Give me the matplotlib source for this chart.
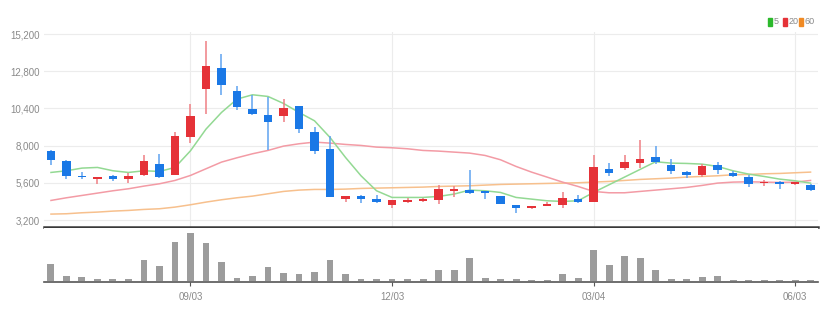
"""Weekly candlestick chart with 5/20/60 moving averages and volume."""

import matplotlib.pyplot as plt
import numpy as np
from matplotlib.patches import Rectangle

# weekly OHLC (red = up, blue = down)
opens = [7629, 7027, 6060, 5866, 6017, 5845, 6124, 6834, 6124, 8532,
         11650, 13004, 11542, 10360, 9994, 9930, 10532, 8876, 7780, 4555,
         4727, 4555, 4189, 4383, 4426, 4512, 5049, 5157, 5049, 4770,
         4189, 3953, 4125, 4146, 4576, 4361, 6511, 6554, 6877, 7242,
         6726, 6296, 6081, 6769, 6232, 5952, 5565, 5651, 5522, 5479]
highs = [7737, 7050, 6275, 5952, 6080, 6232, 7414, 7479, 8876, 10704,
         14724, 13907, 11843, 11284, 11134, 11026, 10575, 9177, 8640, 4727,
         4834, 4834, 4512, 4598, 4598, 5479, 5415, 6404, 5092, 4770,
         4189, 4103, 4340, 5028, 4834, 7393, 6877, 7393, 8382, 7952,
         7135, 6339, 6812, 6962, 6382, 6124, 5758, 5694, 5630, 5522]
lows = [6726, 5845, 5845, 5522, 5694, 5587, 6060, 5888, 6081, 8167,
        10037, 11241, 10295, 9951, 7737, 9500, 8812, 7479, 4684, 4340,
        4297, 4297, 3953, 4297, 4383, 4254, 4684, 4899, 4555, 4254,
        3652, 3931, 4125, 3974, 4297, 4361, 6017, 6447, 6554, 6834,
        6189, 5930, 5952, 6189, 5974, 5329, 5415, 5221, 5458, 5049]
closes = [7092, 6060, 5952, 5952, 5845, 6060, 7006, 5974, 8597, 9930,
          13155, 11886, 10467, 10037, 9500, 10424, 9091, 7629, 4684, 4727,
          4576, 4340, 4490, 4490, 4555, 5221, 5221, 4942, 4942, 4254,
          3974, 4082, 4254, 4598, 4361, 6597, 6232, 6941, 7113, 6920,
          6339, 6081, 6662, 6404, 6017, 5544, 5608, 5544, 5630, 5157]

# moving averages
ma5 = [6269, 6377, 6549, 6592, 6377, 6269, 6377, 6334, 6592, 7667,
       9065, 10140, 11000, 11280, 11172, 10721, 10140, 9602, 8527, 7237,
       6054, 5087, 4657, 4657, 4657, 4721, 4872, 5130, 5087, 4979,
       4657, 4549, 4441, 4399, 4441, 4979, 5474, 5969, 6463, 6958,
       6872, 6850, 6807, 6657, 6377, 6162, 6011, 5840, 5732, 5581]
ma20 = [4463, 4635, 4785, 4936, 5087, 5216, 5388, 5538, 5753, 6076,
        6506, 6936, 7216, 7474, 7689, 7968, 8119, 8226, 8162, 8076,
        8011, 7904, 7861, 7796, 7689, 7646, 7581, 7517, 7366, 7087,
        6657, 6291, 5969, 5646, 5366, 5044, 4957, 4957, 5044, 5130,
        5216, 5302, 5431, 5581, 5646, 5667, 5646, 5624, 5646, 5753]
ma60 = [3582, 3604, 3668, 3711, 3775, 3818, 3883, 3926, 4033, 4184,
        4356, 4506, 4635, 4742, 4893, 5044, 5130, 5173, 5173, 5194,
        5237, 5259, 5280, 5302, 5323, 5366, 5388, 5409, 5452, 5495,
        5517, 5538, 5560, 5581, 5603, 5646, 5689, 5753, 5818, 5861,
        5904, 5969, 6011, 6054, 6119, 6140, 6183, 6205, 6248, 6291]

volumes = [51, 15, 11, 7, 6, 6, 63, 44, 115, 141,
           113, 57, 10, 16, 42, 25, 20, 28, 63, 21,
           7, 6, 7, 5, 5, 33, 32, 68, 10, 5,
           5, 2, 2, 20, 10, 93, 47, 75, 68, 33,
           7, 5, 11, 15, 2, 2, 2, 2, 2, 2]

date_pos = [9, 22, 35, 48]
date_labels = ["09/03", "12/03", "03/04", "06/03"]
price_ticks = [3200, 5600, 8000, 10400, 12800, 15200]
legend_labels = ["5", "20", "60"]
legend_colors = ["#2cb92c", "#e53238", "#f08a24"]

UP_BODY, UP_WICK = "#e53238", "#ef7f84"
DN_BODY, DN_WICK = "#1a78e6", "#5fa3f0"
TEXT = "#8a8a8a"
GRID = "#ececec"
W, H = 835, 315

plt.rcParams["font.family"] = ["Liberation Sans", "DejaVu Sans"]

fig = plt.figure(figsize=(W / 100, H / 100), dpi=100)
ax = fig.add_axes([0.0527, 0.2794, 0.9273, 0.619])
axv = fig.add_axes([0.0527, 0.1048, 0.9273, 0.1714], sharex=ax)

x = np.arange(len(closes))
o, h, l, c = map(np.array, (opens, highs, lows, closes))
up = c >= o

# grid
for p in price_ticks:
    ax.axhline(p, color=GRID, lw=0.8, zorder=0)
for d in date_pos:
    ax.axvline(d, color=GRID, lw=0.8, zorder=0)

# moving averages
ax.plot(x, ma60, color="#f7c08d", lw=1.1, zorder=1)
ax.plot(x, ma20, color="#f39ba5", lw=1.1, zorder=1)
ax.plot(x, ma5, color="#93d993", lw=1.1, zorder=1)

# candles
ax.vlines(x[up], l[up], h[up], color=UP_WICK, lw=1.1, zorder=2)
ax.vlines(x[~up], l[~up], h[~up], color=DN_WICK, lw=1.1, zorder=2)
body_w = 0.55
bottoms = np.minimum(o, c)
heights = np.maximum(np.abs(c - o), 60)
ax.bar(x[up], heights[up], bottom=bottoms[up], width=body_w,
       color=UP_BODY, zorder=3)
ax.bar(x[~up], heights[~up], bottom=bottoms[~up], width=body_w,
       color=DN_BODY, zorder=3)

ax.set_xlim(-0.45, 49.5)
ax.set_ylim(2750, 15330)
ax.set_yticks(price_ticks)
ax.set_yticklabels([f"{p:,}" for p in price_ticks])
ax.tick_params(axis="y", length=0, labelsize=7, colors=TEXT, pad=3)
ax.tick_params(axis="x", length=0, labelbottom=False)
for s in ("top", "right", "left"):
    ax.spines[s].set_visible(False)
ax.spines["bottom"].set_color("#3a3a3a")
ax.spines["bottom"].set_linewidth(1.8)

# legend (top right): small colour block + label
sq_x = [768, 783, 799]
ly = 1 - 22 / H
for sx, label, col in zip(sq_x, legend_labels, legend_colors):
    fig.patches.append(Rectangle((sx / W, ly - 3.5 / H), 4 / W, 7 / H,
                                 transform=fig.transFigure, color=col))
    fig.text((sx + 5.5) / W, ly, label, color=TEXT, fontsize=6.5,
             va="center")

# volume
axv.bar(x, volumes, width=0.45, color="#9c9c9c", zorder=2)
axv.set_ylim(-3, 157)
axv.set_yticks([])
axv.set_xticks(date_pos)
axv.set_xticklabels(date_labels)
axv.tick_params(axis="x", length=3, color="#555555", labelsize=7,
                labelcolor=TEXT, pad=4)
for s in ("top", "right", "left"):
    axv.spines[s].set_visible(False)
axv.spines["bottom"].set_color("#555555")
axv.spines["bottom"].set_linewidth(1.2)

fig.savefig("out.png", dpi=100)
